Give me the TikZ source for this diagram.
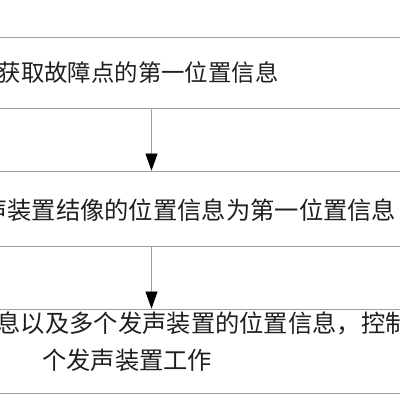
\documentclass[tikz,border=0pt]{standalone}
\usepackage{fontspec}
\newfontfamily\cjk{Noto Sans CJK SC}
\usetikzlibrary{arrows.meta}
\begin{document}
\begin{tikzpicture}[x=1pt,y=1pt,
  boxstyle/.style={draw=black!38,line width=0.8pt,minimum width=560pt,inner sep=0pt},
  txt/.style={inner sep=0pt,font=\cjk\fontsize{24.3}{28}\selectfont,text=black!88},
  arr/.style={draw=black!38,line width=0.8pt,-{Triangle[length=17pt,width=12pt,color=black]}}]
\useasboundingbox (0,0) rectangle (400,400);
\clip (0,0) rectangle (400,400);
\node[boxstyle,minimum height=71pt] (box1) at (200,327.5) {};
\node[boxstyle,minimum height=75pt] (box2) at (200,191.5) {};
\node[boxstyle,minimum height=84pt] (box3) at (200,49) {};
\coordinate (ax) at (151.5,0);
\node[txt,anchor=west,font=\cjk\fontsize{23.4}{28}\selectfont] (t1) at (-2.5,327.5) {获取故障点的第一位置信息};
\node[txt,anchor=east] (t2) at (396.5,190) {声装置结像的位置信息为第一位置信息};
\node[txt,anchor=west] (t3a) at (-3.5,77) {息以及多个发声装置的位置信息，控制};
\node[txt,anchor=west] (t3b) at (42,40) {个发声装置工作};
\draw[arr] (box1.south -| ax) -- (box2.north -| ax);
\draw[arr] (box2.south -| ax) -- (box3.north -| ax);
\end{tikzpicture}
\end{document}
